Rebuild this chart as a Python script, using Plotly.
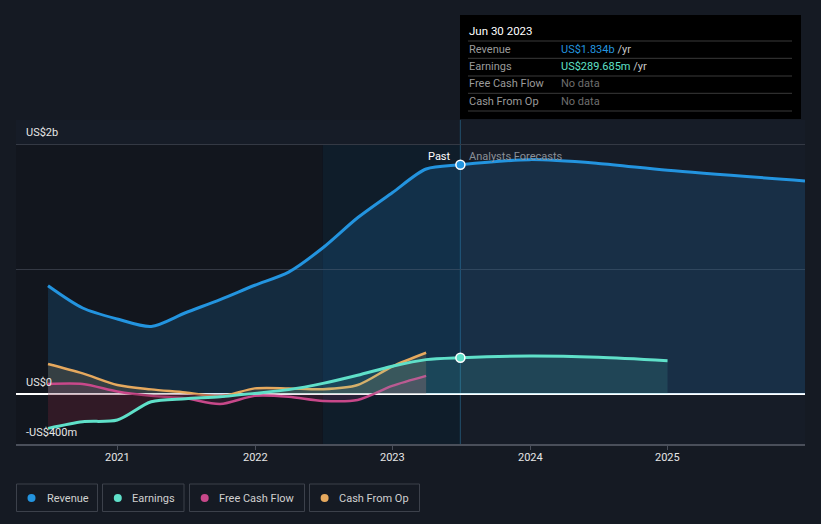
import plotly.graph_objects as go

# ---------------- data (US$ millions) ----------------
rev_dates = ['2020-06-30', '2020-09-30', '2020-12-31', '2021-03-31', '2021-06-30',
             '2021-09-30', '2021-12-31', '2022-03-31', '2022-06-30', '2022-09-30',
             '2022-12-31', '2023-03-31', '2023-06-30', '2023-12-31', '2024-06-30',
             '2024-12-31', '2025-12-31']
revenue = [866, 688, 600, 540, 650, 755, 870, 975, 1170, 1410, 1610, 1800, 1834,
           1875, 1845, 1790, 1705]

earn_dates = ['2020-06-30', '2020-09-30', '2020-12-31', '2021-03-31', '2021-06-30',
              '2021-09-30', '2021-12-31', '2022-03-31', '2022-06-30', '2022-09-30',
              '2022-12-31', '2023-03-31', '2023-06-30', '2023-12-31', '2024-06-30',
              '2024-12-31']
earnings = [-275, -222, -208, -62, -38, -22, 5, 35, 85, 150, 222, 275, 290, 304, 294, 267]

cf_dates = ['2020-06-30', '2020-09-30', '2020-12-31', '2021-03-31', '2021-06-30',
            '2021-09-30', '2021-12-31', '2022-03-31', '2022-06-30', '2022-09-30',
            '2022-12-31', '2023-03-31']
free_cash_flow = [80, 80, 20, -15, -35, -80, -15, -22, -55, -48, 65, 145]
cash_from_op = [240, 165, 72, 37, 12, -20, 45, 45, 38, 72, 220, 330]

now_date = '2023-06-30'
band_start = '2022-06-30'
x_range = ['2020-04-06', '2025-12-31']
y_range = [-400, 2192]
year_ticks = ['2021-01-01', '2022-01-01', '2023-01-01', '2024-01-01', '2025-01-01']
year_labels = ['2021', '2022', '2023', '2024', '2025']
y_labels = [(2000, 'US$2b'), (0, 'US$0'), (-400, '-US$400m')]

legend_names = ['Revenue', 'Earnings', 'Free Cash Flow', 'Cash From Op']

# ---------------- style ----------------
C_REV = '#2394df'
C_EARN = '#5fe0c9'
C_FCF = '#c8488a'
C_CFO = '#e6a95e'
BG = '#151a23'
PLOT_BG = '#161c27'

W, H = 821, 524
L, R, T, B = 16, 805, 120, 444


def px(xp):
    return (xp - L) / (R - L)


def py(yp):
    return (B - yp) / (B - T)


fig = go.Figure()

# revenue
fig.add_trace(go.Scatter(x=rev_dates, y=revenue, mode='lines', fill='tozeroy',
                         fillcolor='rgba(35,140,215,0.18)',
                         line=dict(color=C_REV, width=3, shape='spline', smoothing=0.8),
                         hoverinfo='skip', showlegend=False))
# cash from op
fig.add_trace(go.Scatter(x=cf_dates, y=cash_from_op, mode='lines', fill='tozeroy',
                         fillcolor='rgba(230,169,94,0.16)',
                         line=dict(color=C_CFO, width=2.5, shape='spline', smoothing=0.8),
                         hoverinfo='skip', showlegend=False))
# free cash flow
fig.add_trace(go.Scatter(x=cf_dates, y=free_cash_flow, mode='lines', fill='tozeroy',
                         fillcolor='rgba(200,72,138,0.14)',
                         line=dict(color=C_FCF, width=2.5, shape='spline', smoothing=0.8),
                         hoverinfo='skip', showlegend=False))
# earnings fills (negative red, positive teal)
earn_neg = [min(v, 0) for v in earnings]
earn_pos = [max(v, 0) for v in earnings]
fig.add_trace(go.Scatter(x=earn_dates, y=earn_neg, mode='lines', fill='tozeroy',
                         fillcolor='rgba(110,35,55,0.35)',
                         line=dict(width=0, shape='spline', smoothing=0.8),
                         hoverinfo='skip', showlegend=False))
fig.add_trace(go.Scatter(x=earn_dates, y=earn_pos, mode='lines', fill='tozeroy',
                         fillcolor='rgba(95,224,201,0.13)',
                         line=dict(width=0, shape='spline', smoothing=0.8),
                         hoverinfo='skip', showlegend=False))
fig.add_trace(go.Scatter(x=earn_dates, y=earnings, mode='lines',
                         line=dict(color=C_EARN, width=3, shape='spline', smoothing=0.8),
                         hoverinfo='skip', showlegend=False))

# markers at "now"
i_rev = rev_dates.index(now_date)
i_earn = earn_dates.index(now_date)
fig.add_trace(go.Scatter(x=[now_date], y=[revenue[i_rev]], mode='markers',
                         marker=dict(size=9, color=C_REV, line=dict(color='white', width=1.5)),
                         hoverinfo='skip', showlegend=False))
fig.add_trace(go.Scatter(x=[now_date], y=[earnings[i_earn]], mode='markers',
                         marker=dict(size=9, color=C_EARN, line=dict(color='white', width=1.5)),
                         hoverinfo='skip', showlegend=False))

shapes = []
# past dark region and highlighted band
shapes.append(dict(type='rect', xref='x', yref='y', x0=x_range[0], x1=band_start,
                   y0=-400, y1=2000, fillcolor='#12161e', line=dict(width=0), layer='below'))
shapes.append(dict(type='rect', xref='x', yref='y', x0=band_start, x1=now_date,
                   y0=-400, y1=2000, fillcolor='#0f1d2a', line=dict(width=0), layer='below'))
# now line
shapes.append(dict(type='line', xref='x', yref='y', x0=now_date, x1=now_date,
                   y0=-400, y1=y_range[1], line=dict(color='#1f4660', width=1.2), layer='below'))

# tooltip box
shapes.append(dict(type='rect', xref='paper', yref='paper', x0=px(460), x1=px(801),
                   y0=py(119), y1=py(15), fillcolor='#000000', line=dict(width=0)))
for yy in [41, 58.3, 76, 93.3, 111]:
    shapes.append(dict(type='line', xref='paper', yref='paper', x0=px(468), x1=px(792),
                       y0=py(yy), y1=py(yy), line=dict(color='#3a3a3a', width=1)))

# legend boxes
legend_boxes = [(16.5, 97.5), (102.5, 184), (189.5, 304.5), (309.5, 419.5)]
legend_colors = [C_REV, C_EARN, C_FCF, C_CFO]
legend_dot_x = [31.5, 117.8, 204.7, 324.6]
legend_text_x = [44.5, 130, 217, 337]
for (x0, x1), c, dx in zip(legend_boxes, legend_colors, legend_dot_x):
    shapes.append(dict(type='rect', xref='paper', yref='paper', x0=px(x0), x1=px(x1),
                       y0=py(511.5), y1=py(484), line=dict(color='#3c414b', width=1),
                       fillcolor='rgba(0,0,0,0)'))
    shapes.append(dict(type='circle', xref='paper', yref='paper', x0=px(dx - 4), x1=px(dx + 4),
                       y0=py(502), y1=py(494), fillcolor=c, line=dict(width=0)))

annotations = []
FONT = 'Roboto, Open Sans, sans-serif'
for val, lab in y_labels:
    ypix = B - (val - y_range[0]) / (y_range[1] - y_range[0]) * (B - T) - 12
    annotations.append(dict(xref='paper', yref='paper', x=px(24), y=py(ypix), text=lab,
                            showarrow=False, xanchor='left', yanchor='middle',
                            font=dict(family=FONT, size=11, color='#e6e6e6')))
# x tick labels
for tv, tl in zip(year_ticks, year_labels):
    annotations.append(dict(xref='x', yref='paper', x=tv, y=py(457), text=tl,
                            showarrow=False, xanchor='center', yanchor='middle',
                            font=dict(family=FONT, size=11, color='#e6e6e6')))
annotations.append(dict(xref='paper', yref='paper', x=px(453), y=py(156), text='Past',
                        showarrow=False, xanchor='right', yanchor='middle',
                        font=dict(family=FONT, size=11, color='#ffffff')))
annotations.append(dict(xref='paper', yref='paper', x=px(467), y=py(156), text='Analysts Forecasts',
                        showarrow=False, xanchor='left', yanchor='middle',
                        font=dict(family=FONT, size=11, color='#8a8f98')))

# tooltip text
annotations.append(dict(xref='paper', yref='paper', x=px(467), y=py(31), text='Jun 30 2023',
                        showarrow=False, xanchor='left', yanchor='middle',
                        font=dict(family=FONT, size=11.5, color='#ffffff')))
tip_rows = [
    ('Revenue', '<span style="color:%s">US$1.834b</span> /yr' % C_REV),
    ('Earnings', '<span style="color:%s">US$289.685m</span> /yr' % C_EARN),
    ('Free Cash Flow', '<span style="color:#6e6e6e">No data</span>'),
    ('Cash From Op', '<span style="color:#6e6e6e">No data</span>'),
]
for (lab, val), yy in zip(tip_rows, [49.5, 66.5, 84, 101.5]):
    annotations.append(dict(xref='paper', yref='paper', x=px(467), y=py(yy), text=lab,
                            showarrow=False, xanchor='left', yanchor='middle',
                            font=dict(family=FONT, size=11, color='#9a9a9a')))
    annotations.append(dict(xref='paper', yref='paper', x=px(559), y=py(yy), text=val,
                            showarrow=False, xanchor='left', yanchor='middle',
                            font=dict(family=FONT, size=11, color='#c8c8c8')))

# legend texts
for name, tx in zip(legend_names, legend_text_x):
    annotations.append(dict(xref='paper', yref='paper', x=px(tx), y=py(498), text=name,
                            showarrow=False, xanchor='left', yanchor='middle',
                            font=dict(family=FONT, size=11, color='#d0d0d0')))

fig.update_layout(
    width=W, height=H,
    margin=dict(l=L, r=W - R, t=T, b=H - B),
    paper_bgcolor=BG, plot_bgcolor=PLOT_BG,
    shapes=shapes, annotations=annotations,
    showlegend=False,
    xaxis=dict(type='date', range=x_range, tickvals=year_ticks, showticklabels=False,
               showgrid=False, zeroline=False, showline=True, linecolor='#4a4f5a', linewidth=1.5,
               ticks='outside', ticklen=4, tickcolor='#4a4f5a', fixedrange=True),
    yaxis=dict(range=y_range, tickvals=[1000, 2000], showticklabels=False,
               showgrid=True, gridcolor='#343944', gridwidth=1,
               zeroline=True, zerolinecolor='#ffffff', zerolinewidth=1.5,
               showline=False, fixedrange=True),
)

fig.write_html('out.html', config={'displayModeBar': False},
               post_script="document.body.style.margin='0';"
                           "document.body.style.padding='0';"
                           "document.body.style.overflow='hidden';"
                           "document.body.style.background='%s';" % BG)
